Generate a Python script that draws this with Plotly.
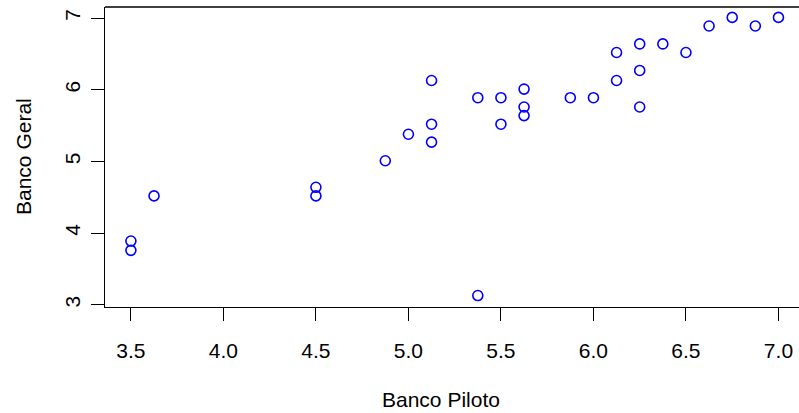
import plotly.graph_objects as go

banco_piloto = [3.5, 3.5, 3.625, 4.5, 4.5, 4.875, 5.0, 5.125, 5.125, 5.125,
                5.375, 5.375, 5.5, 5.5, 5.625, 5.625, 5.625, 5.875, 6.0,
                6.125, 6.125, 6.25, 6.25, 6.25, 6.375, 6.5, 6.625, 6.75, 6.875, 7.0]
banco_geral = [3.89, 3.76, 4.52, 4.64, 4.52, 5.01, 5.38, 6.13, 5.52, 5.27,
               3.13, 5.89, 5.89, 5.52, 6.01, 5.76, 5.64, 5.89, 5.89,
               6.13, 6.52, 6.64, 6.27, 5.76, 6.64, 6.52, 6.89, 7.01, 6.89, 7.01]
x_ticks = [3.5, 4.0, 4.5, 5.0, 5.5, 6.0, 6.5, 7.0]
x_ticklabels = ["3.5", "4.0", "4.5", "5.0", "5.5", "6.0", "6.5", "7.0"]
y_ticks = [3, 4, 5, 6, 7]
y_ticklabels = ["3", "4", "5", "6", "7"]
x_title = "Banco Piloto"
y_title = "Banco Geral"

FONT = "Liberation Sans, Arial, Helvetica, sans-serif"

fig = go.Figure()
fig.add_trace(go.Scatter(
    x=banco_piloto, y=banco_geral, mode="markers",
    marker=dict(symbol="circle-open", size=10, color="#0000FF",
                line=dict(width=1.6, color="#0000FF")),
    showlegend=False, hoverinfo="x+y"))

fig.update_layout(
    width=799, height=413,
    margin=dict(l=105, r=0, t=7, b=106),
    paper_bgcolor="white", plot_bgcolor="white",
    font=dict(family=FONT, size=21, color="black"),
    xaxis=dict(range=[3.36, 7.111], tickvals=x_ticks, ticktext=x_ticklabels,
               showgrid=False, zeroline=False, showline=True, linecolor="black",
               linewidth=1.3, ticks="outside", ticklen=13, tickwidth=1.3,
               tickcolor="black", ticklabelstandoff=12, automargin=False,
               tickfont=dict(family=FONT, size=21, color="black")),
    yaxis=dict(range=[2.97, 7.155], tickvals=y_ticks, ticktext=y_ticklabels,
               showgrid=False, zeroline=False, showline=True, linecolor="black",
               linewidth=1.3, ticks="outside", ticklen=13, tickwidth=1.3,
               tickcolor="black", tickangle=-90, ticklabelstandoff=2, automargin=False,
               tickfont=dict(family=FONT, size=21, color="black")),
    shapes=[dict(type="line", xref="paper", yref="paper", x0=0, x1=1, y0=1, y1=1,
                 line=dict(color="black", width=1.3))],
    annotations=[
        dict(text=x_title, xref="paper", yref="paper", x=(441 - 105) / 694,
             y=-(399 - 307) / 300, xanchor="center", yanchor="middle",
             showarrow=False, font=dict(family=FONT, size=21, color="black")),
        dict(text=y_title, xref="paper", yref="paper", x=-(105 - 23) / 694,
             y=0.5, xanchor="center", yanchor="middle", textangle=-90,
             showarrow=False, font=dict(family=FONT, size=21, color="black")),
    ],
)

fig.write_html("out.html", config={"displayModeBar": False},
               post_script="document.body.style.margin='0';document.body.style.overflow='hidden';")
